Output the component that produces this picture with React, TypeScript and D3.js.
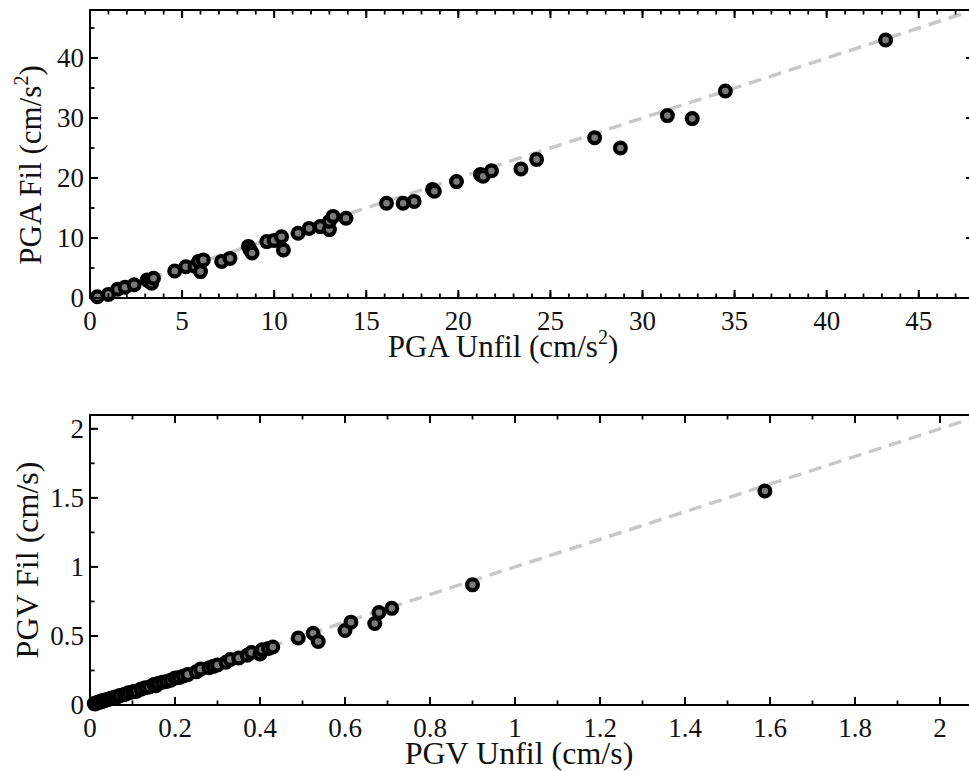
import React from "react";
import * as d3 from "d3";

const pgaUnfil = [0.4, 1.0, 1.5, 1.9, 2.4, 3.1, 3.2, 3.35, 3.45, 4.6, 5.2, 5.7, 5.9, 6.0, 6.15, 7.15, 7.6, 8.6, 8.7, 8.8, 9.6, 10.0, 10.4, 10.5, 11.3, 11.9, 12.5, 13.0, 13.0, 13.2, 13.9, 16.1, 17.0, 17.6, 18.6, 18.7, 19.9, 21.2, 21.35, 21.8, 23.4, 24.25, 27.4, 28.8, 31.35, 32.7, 34.5, 43.2];
const pgaFil = [0.2, 0.6, 1.45, 1.8, 2.2, 3.0, 2.8, 2.45, 3.3, 4.5, 5.2, 5.3, 6.1, 4.4, 6.35, 6.1, 6.6, 8.6, 8.0, 7.5, 9.4, 9.6, 10.2, 8.0, 10.8, 11.6, 11.9, 11.4, 12.8, 13.6, 13.3, 15.8, 15.8, 16.1, 18.1, 17.8, 19.4, 20.6, 20.3, 21.2, 21.5, 23.1, 26.7, 25.0, 30.4, 29.9, 34.5, 43.0];

const pgvUnfil = [0.01, 0.012, 0.015, 0.018, 0.02, 0.022, 0.025, 0.028, 0.03, 0.033, 0.035, 0.04, 0.045, 0.05, 0.055, 0.06, 0.065, 0.07, 0.08, 0.085, 0.09, 0.1, 0.105, 0.11, 0.12, 0.13, 0.14, 0.15, 0.155, 0.16, 0.17, 0.18, 0.19, 0.2, 0.21, 0.22, 0.23, 0.25, 0.26, 0.28, 0.29, 0.3, 0.32, 0.33, 0.35, 0.37, 0.38, 0.4, 0.405, 0.42, 0.43, 0.49, 0.525, 0.537, 0.6, 0.614, 0.67, 0.68, 0.71, 0.9, 1.588];
const pgvFil = [0.01, 0.008, 0.014, 0.02, 0.018, 0.024, 0.022, 0.03, 0.027, 0.03, 0.036, 0.038, 0.042, 0.05, 0.05, 0.058, 0.06, 0.068, 0.076, 0.08, 0.088, 0.095, 0.1, 0.1, 0.115, 0.125, 0.13, 0.148, 0.14, 0.155, 0.165, 0.17, 0.18, 0.195, 0.2, 0.21, 0.22, 0.24, 0.26, 0.27, 0.28, 0.29, 0.31, 0.33, 0.34, 0.36, 0.38, 0.37, 0.40, 0.41, 0.42, 0.485, 0.52, 0.46, 0.54, 0.60, 0.59, 0.67, 0.70, 0.87, 1.55];

const pgaMajor = [0, 5, 10, 15, 20, 25, 30, 35, 40, 45];
const pgaYMajor = [0, 10, 20, 30, 40];
const pgvXMajor = [0, 0.2, 0.4, 0.6, 0.8, 1, 1.2, 1.4, 1.6, 1.8, 2];
const pgvYMajor = [0, 0.5, 1, 1.5, 2];

const FONT = "Liberation Serif, Times New Roman, Times, serif";

type PanelProps = {
  xs: number[]; ys: number[];
  domain: number; left: number; top: number; right: number; bottom: number;
  xMajor: number[]; xMinorStep: number; yMajor: number[]; yMinorStep: number;
  xLabel: React.ReactNode; yLabel: React.ReactNode; labelSize: number;
  xLabelX: number; xLabelY: number; yLabelX: number; yLabelY: number;
};

function Panel(p: PanelProps) {
  const x = d3.scaleLinear().domain([0, p.domain]).range([p.left, p.right]);
  const y = d3.scaleLinear().domain([0, p.domain]).range([p.bottom, p.top]);
  const xMinor = d3.range(0, p.domain + 1e-9, p.xMinorStep);
  const yMinor = d3.range(0, p.domain + 1e-9, p.yMinorStep);
  const maj = 8, min = 4.5;
  const line = d3.line<[number, number]>().x(d => x(d[0])).y(d => y(d[1]));
  const fmt = (v: number) => String(+v.toFixed(2));
  return (
    <g>
      <path d={line([[0, 0], [p.domain, p.domain]]) || ""} stroke="#c8c8c8" strokeWidth={3.5} strokeDasharray="13 8" fill="none" />
      {p.xs.map((v, i) => (
        <circle key={i} cx={x(v)} cy={y(p.ys[i])} r={5.4} fill="#7a7a7a" stroke="#000" strokeWidth={4.2} />
      ))}
      <rect x={p.left} y={p.top} width={p.right - p.left} height={p.bottom - p.top} fill="none" stroke="#000" strokeWidth={2} />
      {xMinor.map((v, i) => (
        <g key={"xm" + i}>
          <line x1={x(v)} x2={x(v)} y1={p.bottom} y2={p.bottom - min} stroke="#000" strokeWidth={1.8} />
          <line x1={x(v)} x2={x(v)} y1={p.top} y2={p.top + min} stroke="#000" strokeWidth={1.8} />
        </g>
      ))}
      {yMinor.map((v, i) => (
        <g key={"ym" + i}>
          <line x1={p.left} x2={p.left + min} y1={y(v)} y2={y(v)} stroke="#000" strokeWidth={1.8} />
          <line x1={p.right} x2={p.right - min} y1={y(v)} y2={y(v)} stroke="#000" strokeWidth={1.8} />
        </g>
      ))}
      {p.xMajor.map((v, i) => (
        <g key={"xM" + i}>
          <line x1={x(v)} x2={x(v)} y1={p.bottom} y2={p.bottom - maj} stroke="#000" strokeWidth={2} />
          <line x1={x(v)} x2={x(v)} y1={p.top} y2={p.top + maj} stroke="#000" strokeWidth={2} />
          <text x={x(v)} y={p.bottom + 32} textAnchor="middle" fontSize={27} style={{ fontFamily: FONT }} fill="#111">{fmt(v)}</text>
        </g>
      ))}
      {p.yMajor.map((v, i) => (
        <g key={"yM" + i}>
          <line x1={p.left} x2={p.left + maj} y1={y(v)} y2={y(v)} stroke="#000" strokeWidth={2} />
          <line x1={p.right} x2={p.right - maj} y1={y(v)} y2={y(v)} stroke="#000" strokeWidth={2} />
          <text x={p.left - 6} y={y(v) + 9} textAnchor="end" fontSize={27} style={{ fontFamily: FONT }} fill="#111">{fmt(v)}</text>
        </g>
      ))}
      <text x={p.xLabelX} y={p.xLabelY} textAnchor="middle" fontSize={p.labelSize} style={{ fontFamily: FONT }} fill="#111">{p.xLabel}</text>
      <text transform={`translate(${p.yLabelX},${p.yLabelY}) rotate(-90)`} textAnchor="middle" fontSize={p.labelSize} style={{ fontFamily: FONT }} fill="#111">{p.yLabel}</text>
    </g>
  );
}

export default function App() {
  const sup = (
    <tspan>
      (cm/s<tspan dy={-13} fontSize={20}>2</tspan><tspan dy={13}>)</tspan>
    </tspan>
  );
  return (
    <svg width={969} height={771} style={{ position: "absolute", left: 0, top: 0, background: "#fff" }}>
      <rect x={0} y={0} width={969} height={771} fill="#fff" />
      <Panel xs={pgaUnfil} ys={pgaFil} domain={48} left={90} right={974} top={10} bottom={298}
        xMajor={pgaMajor} xMinorStep={1} yMajor={pgaYMajor} yMinorStep={5}
        xLabel={<>PGA Unfil {sup}</>} yLabel={<>PGA Fil {sup}</>} labelSize={31}
        xLabelX={503} xLabelY={357} yLabelX={41} yLabelY={165} />
      <Panel xs={pgvUnfil} ys={pgvFil} domain={2.1} left={90} right={982.5} top={415} bottom={705}
        xMajor={pgvXMajor} xMinorStep={0.1} yMajor={pgvYMajor} yMinorStep={0.25}
        xLabel={"PGV Unfil (cm/s)"} yLabel={"PGV Fil (cm/s)"} labelSize={32}
        xLabelX={519} xLabelY={764} yLabelX={38} yLabelY={560} />
    </svg>
  );
}
